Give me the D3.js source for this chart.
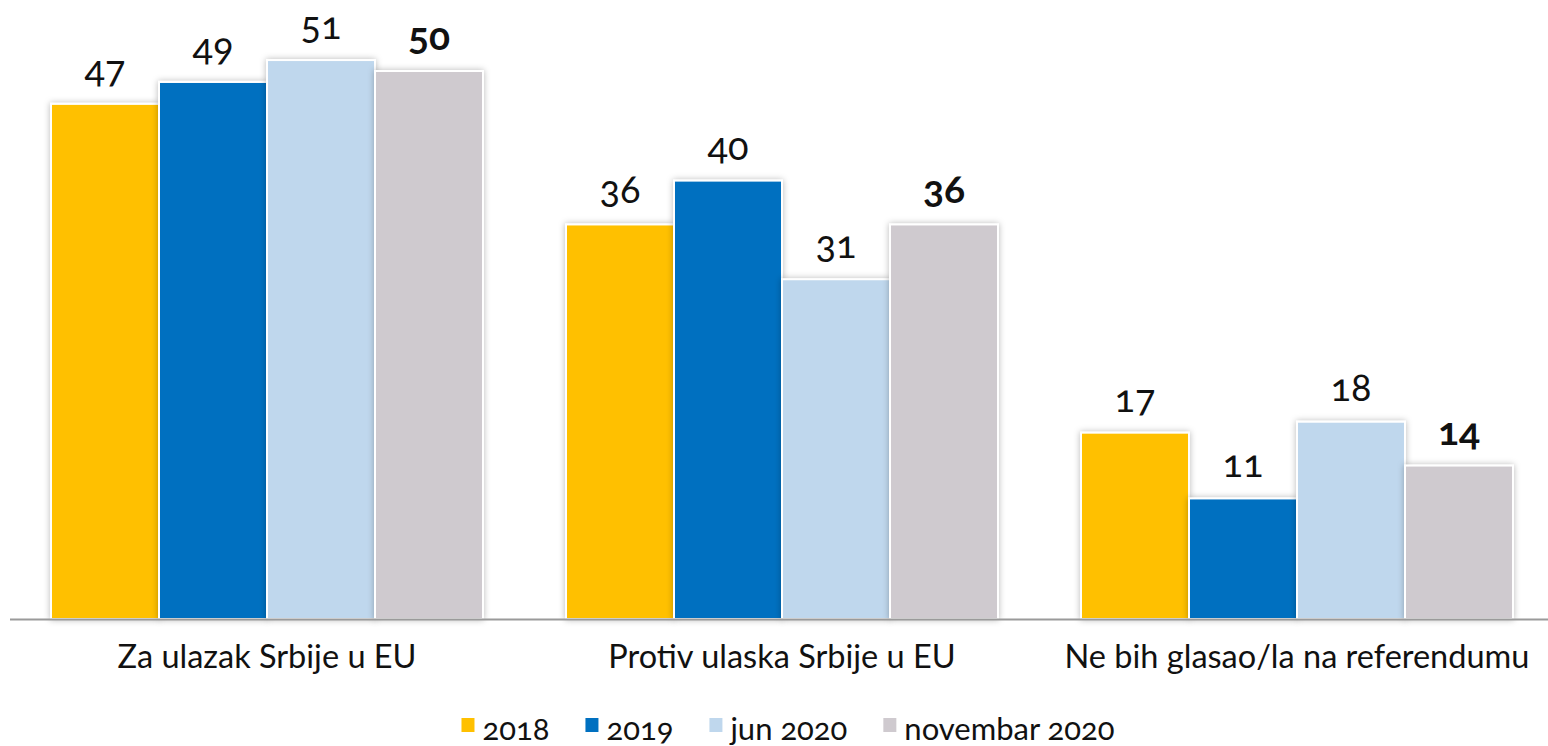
<!DOCTYPE html>
<html>
<head>
<meta charset="utf-8">
<script src="https://cdn.jsdelivr.net/npm/d3@7"></script>
<style>
  html, body { margin: 0; padding: 0; background: #ffffff; }
  svg { display: block; }
  text { font-family: Lato, "Open Sans", sans-serif; font-variant-numeric: oldstyle-nums; }
</style>
</head>
<body>
<svg id="chart" width="1548" height="746"></svg>
<script>
const categories = ["Za ulazak Srbije u EU", "Protiv ulaska Srbije u EU", "Ne bih glasao/la na referendumu"];
const seriesNames = ["2018", "2019", "jun 2020", "novembar 2020"];
const values2018 = [47, 36, 17];
const values2019 = [49, 40, 11];
const valuesJun2020 = [51, 31, 18];
const valuesNov2020 = [50, 36, 14];
const seriesColors = ["#FFC000", "#0070C0", "#BFD7ED", "#CFCACF"];
const boldSeries = [false, false, false, true];

const seriesValues = [values2018, values2019, valuesJun2020, valuesNov2020];

const W = 1548, H = 746;
const svg = d3.select("#chart");

const defs = svg.append("defs");
const f = defs.append("filter").attr("id", "shadow")
  .attr("x", "-10%").attr("y", "-10%").attr("width", "120%").attr("height", "120%");
f.append("feDropShadow").attr("dx", 0).attr("dy", 0).attr("stdDeviation", 3)
  .attr("flood-color", "#000").attr("flood-opacity", 0.28);

const baseY = 619;
const y = d3.scaleLinear().domain([0, 56.48]).range([baseY, 0]);

const x0 = d3.scaleBand().domain(categories).range([9.5, 1554.5])
  .paddingInner(83 / 515).paddingOuter(83 / 1030);
const x1 = d3.scaleBand().domain(seriesNames).range([0, x0.bandwidth()]).padding(0);

const rows = [];
categories.forEach((c, ci) => {
  seriesNames.forEach((s, si) => {
    rows.push({ cat: c, series: s, si, value: seriesValues[si][ci] });
  });
});

const g = svg.append("g");

g.selectAll("rect.bar").data(rows).enter().append("rect")
  .attr("class", "bar")
  .attr("x", d => x0(d.cat) + x1(d.series))
  .attr("y", d => y(d.value))
  .attr("width", x1.bandwidth())
  .attr("height", d => y(0) - y(d.value))
  .attr("fill", d => seriesColors[d.si])
  .attr("stroke", "#ffffff")
  .attr("stroke-width", 2)
  .attr("filter", "url(#shadow)");

// axis baseline
const xAxis = d3.axisBottom(x0).tickSize(0).tickPadding(26);
const axG = svg.append("g").attr("transform", `translate(0,${baseY})`).call(xAxis);
axG.select(".domain").attr("stroke", "#9a9a9a").attr("stroke-width", 2);
axG.selectAll(".tick text")
  .attr("font-family", "Lato, sans-serif")
  .attr("font-size", 32.5)
  .attr("fill", "#111")
  .attr("dy", "0.71em");

// value labels
g.selectAll("text.val").data(rows).enter().append("text")
  .attr("class", "val")
  .attr("x", d => x0(d.cat) + x1(d.series) + x1.bandwidth() / 2)
  .attr("y", d => y(d.value) - 21)
  .attr("text-anchor", "middle")
  .attr("font-size", d => boldSeries[d.si] ? 39 : 38)
  .attr("font-weight", d => boldSeries[d.si] ? 700 : 400)
  .attr("fill", "#111")
  .text(d => d.value);

// legend
const leg = svg.append("g");
const items = leg.selectAll("g.item").data(seriesNames).enter().append("g").attr("class", "item");
items.append("rect").attr("width", 13).attr("height", 14).attr("y", 718)
  .attr("fill", (d, i) => seriesColors[i]);
items.append("text").attr("y", 740).attr("font-size", 31).attr("fill", "#111").text(d => d);
let widths = [];
items.each(function () { widths.push(d3.select(this).select("text").node().getComputedTextLength()); });
const sqW = 13, gap = 8, spacing = 36;
const total = d3.sum(widths) + seriesNames.length * (sqW + gap) + (seriesNames.length - 1) * spacing;
let cx = 788 - total / 2;
items.each(function (d, i) {
  const it = d3.select(this);
  it.select("rect").attr("x", cx);
  it.select("text").attr("x", cx + sqW + gap);
  cx += sqW + gap + widths[i] + spacing;
});
</script>
</body>
</html>
